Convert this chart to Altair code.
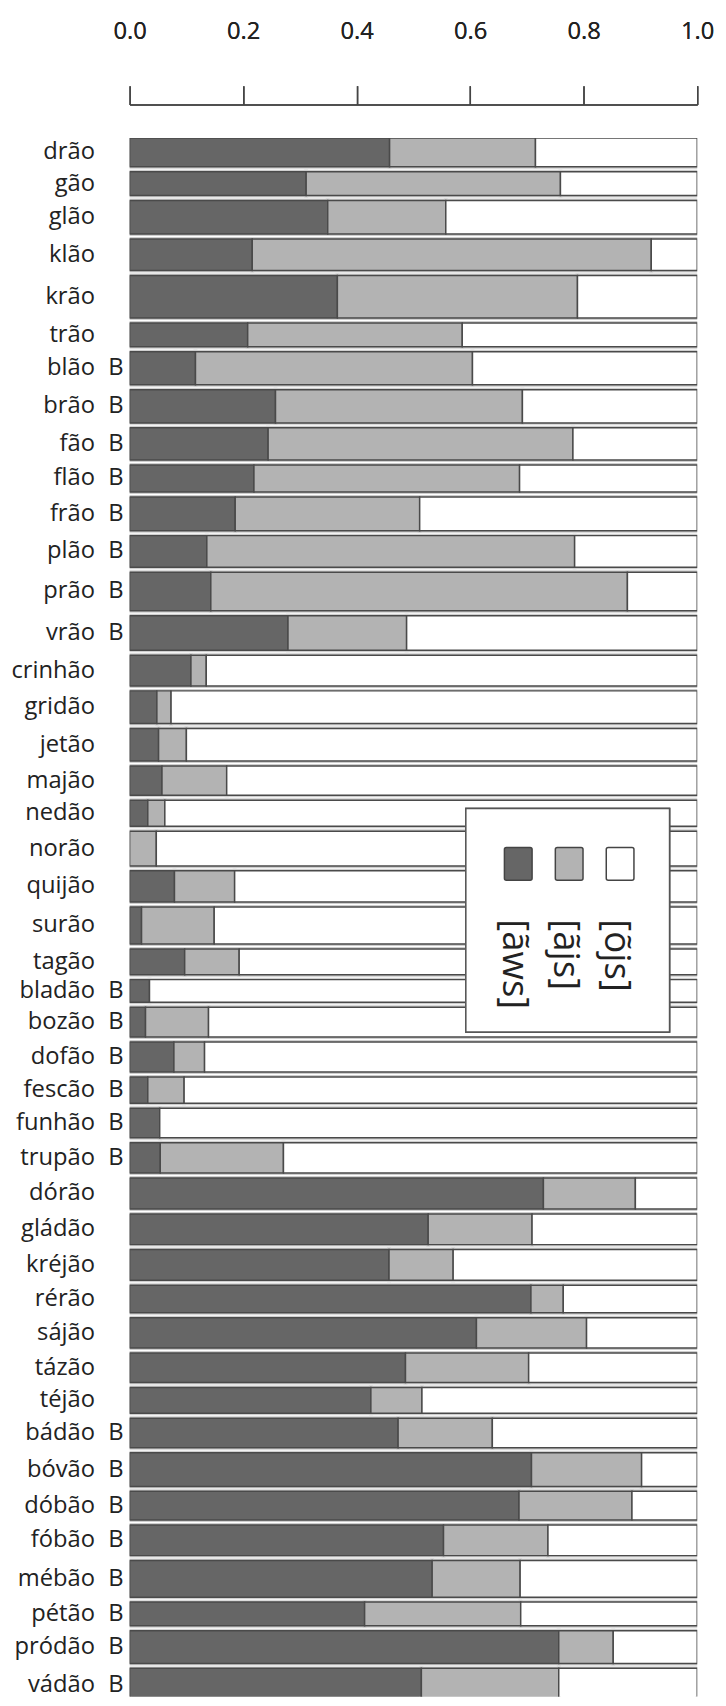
import altair as alt
import pandas as pd

words = ["drão", "gão", "glão", "klão", "krão", "trão", "blão", "brão", "fão", "flão",
         "frão", "plão", "prão", "vrão", "crinhão", "gridão", "jetão", "majão", "nedão", "norão",
         "quijão", "surão", "tagão", "bladão", "bozão", "dofão", "fescão", "funhão", "trupão", "dórão",
         "gládão", "kréjão", "rérão", "sájão", "tázão", "téjão", "bádão", "bóvão", "dóbão", "fóbão",
         "mébão", "pétão", "pródão", "vádão"]
marker = ["", "", "", "", "", "", "B", "B", "B", "B",
          "B", "B", "B", "B", "", "", "", "", "", "",
          "", "", "", "B", "B", "B", "B", "B", "B", "",
          "", "", "", "", "", "", "B", "B", "B", "B",
          "B", "B", "B", "B"]
share_aws = [0.458, 0.311, 0.349, 0.216, 0.366, 0.208, 0.116, 0.257, 0.244, 0.219,
             0.186, 0.136, 0.143, 0.279, 0.108, 0.048, 0.051, 0.057, 0.032, 0.000,
             0.079, 0.021, 0.097, 0.035, 0.028, 0.078, 0.032, 0.053, 0.054, 0.729,
             0.526, 0.457, 0.707, 0.611, 0.486, 0.425, 0.473, 0.708, 0.686, 0.553,
             0.533, 0.414, 0.756, 0.514]
share_ajs = [0.257, 0.448, 0.208, 0.703, 0.423, 0.378, 0.488, 0.435, 0.537, 0.468,
             0.325, 0.648, 0.734, 0.209, 0.027, 0.025, 0.049, 0.114, 0.030, 0.047,
             0.106, 0.128, 0.096, 0.000, 0.111, 0.054, 0.064, 0.000, 0.217, 0.162,
             0.183, 0.113, 0.057, 0.194, 0.217, 0.090, 0.166, 0.194, 0.199, 0.184,
             0.155, 0.275, 0.096, 0.242]
share_ojs = [0.285, 0.241, 0.443, 0.081, 0.211, 0.414, 0.396, 0.308, 0.219, 0.313,
             0.489, 0.216, 0.123, 0.512, 0.865, 0.927, 0.900, 0.829, 0.938, 0.953,
             0.815, 0.851, 0.807, 0.965, 0.861, 0.868, 0.904, 0.947, 0.729, 0.109,
             0.291, 0.430, 0.236, 0.195, 0.297, 0.485, 0.361, 0.098, 0.115, 0.263,
             0.312, 0.311, 0.148, 0.244]
n_responses = [29, 24, 34, 32, 43, 24, 33.5, 33.5, 32.5, 27.5,
               34, 32, 39, 35, 31, 33, 33, 29.5, 26.5, 35,
               31.5, 37.5, 26, 23, 30, 30.5, 26.5, 30, 30.5, 31.5,
               31, 31, 28, 30.5, 30, 26, 30, 34, 29, 31,
               37, 24, 33, 34]
categories = ["aws", "ajs", "ojs"]
legend_labels = ["[ãws]", "[ãjs]", "[õjs]"]
tick_values = [0.0, 0.2, 0.4, 0.6, 0.8, 1.0]

GAP = 5.0
VISIBLE = 1576

rows = []
segs = []
pos = 0.0
for i, w in enumerate(words):
    y0 = pos
    y1 = pos + n_responses[i]
    rows.append({"word": w, "marker": marker[i], "ymid": (y0 + y1) / 2})
    start = 0.0
    for cat, sh in zip(categories, [share_aws[i], share_ajs[i], share_ojs[i]]):
        if sh > 0:
            segs.append({"word": w, "cat": cat, "x0": start, "x1": min(start + sh, 1.0),
                         "y0": y0, "y1": y1})
        start += sh
    pos = y1 + GAP

rows_df = pd.DataFrame(rows)
segs_df = pd.DataFrame(segs)
legend_df = pd.DataFrame({"cat": categories, "label": legend_labels,
                          "slot": list(range(len(categories)))})

FONT = "Open Sans"
yscale = alt.Scale(domain=[0, VISIBLE], reverse=True, nice=False, zero=False)
color_scale = alt.Scale(domain=categories, range=["#666666", "#b3b3b3", "#ffffff"])

xaxis = alt.Axis(orient="top", values=tick_values, format=".1f", title=None, grid=False,
                 offset=34, tickSize=19, labelPadding=43, labelFontSize=24, labelFont=FONT,
                 labelColor="#222", domainColor="#444", tickColor="#444",
                 domainWidth=1.5, tickWidth=1.5, labelFlush=False)

def seg_layer(stroke, width):
    return alt.Chart(segs_df).mark_rect(stroke=stroke, strokeWidth=width, clip=True).encode(
        x=alt.X("x0:Q", scale=alt.Scale(domain=[0, 1], nice=False), axis=xaxis),
        x2="x1:Q",
        y=alt.Y("y0:Q", scale=yscale, axis=None),
        y2="y1:Q",
        color=alt.Color("cat:N", scale=color_scale, legend=None),
    )

halo = seg_layer("#cfcfcf", 4)
bars = seg_layer("#4a4a4a", 1.5)

names = alt.Chart(rows_df).mark_text(align="right", baseline="middle", font=FONT,
                                     fontSize=24, color="#222", dx=-35).encode(
    x=alt.value(0),
    y=alt.Y("ymid:Q", scale=yscale, axis=None),
    text="word:N",
)
marks_b = alt.Chart(rows_df).mark_text(align="right", baseline="middle", font=FONT,
                                       fontSize=24, color="#222", dx=-6).encode(
    x=alt.value(0),
    y=alt.Y("ymid:Q", scale=yscale, axis=None),
    text="marker:N",
)

legend_box = alt.Chart(legend_df).mark_rect(fill="white", stroke="#555", strokeWidth=1.5).encode(
    x=alt.value(340), x2=alt.value(546), y=alt.value(678), y2=alt.value(904),
)
lx = alt.X("slot:Q", scale=alt.Scale(domain=[0, 2], range=[393, 496]), axis=None)
legend_sq = alt.Chart(legend_df).mark_rect(stroke="#444", strokeWidth=1.5, width=28, height=33,
                                           cornerRadius=2).encode(
    x=lx, y=alt.value(734),
    color=alt.Color("cat:N", scale=color_scale, legend=None),
)
legend_txt = alt.Chart(legend_df).mark_text(angle=90, align="left", baseline="middle",
                                            font=FONT, fontSize=37, color="#222",
                                            dy=4).encode(
    x=lx, y=alt.value(790), text="label:N",
)

chart = alt.layer(halo, bars, names, marks_b, legend_box, legend_sq, legend_txt).resolve_scale(
    x="independent"
).properties(
    width=574, height=VISIBLE,
    autosize=alt.AutoSizeParams(type="none"),
    padding={"left": 123, "top": 122, "right": 21, "bottom": 0},
).configure_view(stroke=None)

chart.save("out.html", embed_options={"renderer": "svg", "actions": False})
